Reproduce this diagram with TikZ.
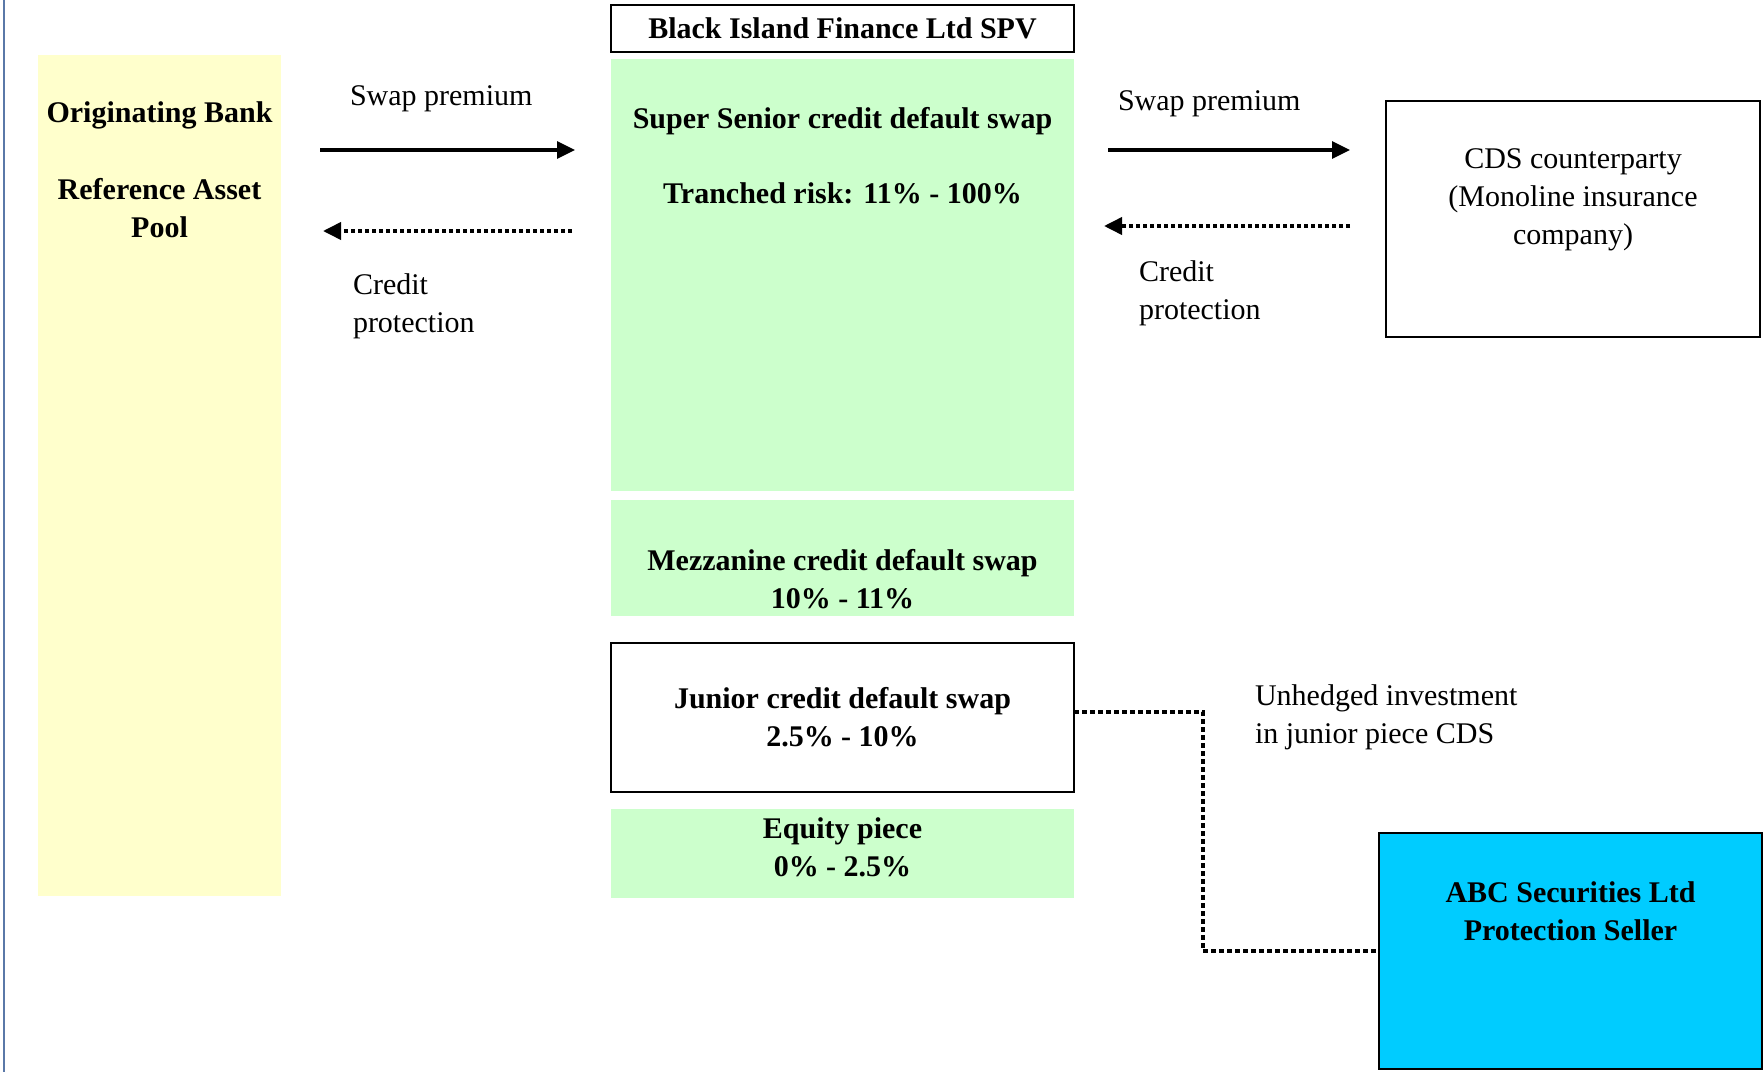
\documentclass[tikz,border=0pt]{standalone}
\usepackage{fontspec}
\setmainfont{Liberation Serif}
\usetikzlibrary{arrows.meta}
\usetikzlibrary{positioning}

\definecolor{poolyellow}{HTML}{FFFFCC}
\definecolor{tranchegreen}{HTML}{CCFFCC}
\definecolor{sellerblue}{HTML}{00CCFF}
\definecolor{marginblue}{HTML}{5A78A8}

\begin{document}
\begin{tikzpicture}[x=0.4pt, y=-0.4pt,
    every node/.style={font=\fontsize{12pt}{15.2pt}\selectfont, inner sep=0pt, outer sep=0pt},
    block/.style={rectangle, minimum width=185.2pt, align=center},
    framed/.style={draw, line width=0.8pt},
    boxtext/.style={align=center, font=\fontsize{12pt}{15.2pt}\selectfont\bfseries},
    plaintext/.style={align=left},
    premium/.style={-{Triangle[length=7.2pt,width=6.8pt]}, line width=1.3pt},
    protection/.style={-{Triangle[length=7.2pt,width=6.8pt]}, line width=1.5pt, dash pattern=on 1.8pt off 1pt},
    unhedged/.style={line width=1.8pt, dash pattern=on 2pt off 1.2pt}]

                    \useasboundingbox (0,0) rectangle (1763,1072);
                    \draw[marginblue, line width=0.6pt] (4,0) -- (4,1072);

                    % originating bank
                    \node[block, fill=poolyellow, minimum width=97.2pt, minimum height=336.4pt, anchor=north west] (bank) at (38,55) {};
                    \node[boxtext, below=18.8pt of bank.north] (bank-text) {Originating Bank\\[15.6pt]Reference Asset\\Pool};

                    % SPV and its tranches
                    \node[block, framed, minimum height=18.8pt, anchor=north west, font=\fontsize{12pt}{15.2pt}\selectfont\bfseries] (spv) at (611,5) {Black Island Finance Ltd SPV};
                    \node[block, fill=tranchegreen, minimum height=172.8pt] (senior) [below=2.8pt of spv] {};
                    \node[block, fill=tranchegreen, minimum height=46.4pt] (mezz) [below=3.6pt of senior] {};
                    \node[block, framed, minimum height=59.6pt, font=\fontsize{12pt}{15.2pt}\selectfont\bfseries] (junior) [below=10.8pt of mezz] {Junior credit default swap\\2.5\% - 10\%};
                    \node[block, fill=tranchegreen, minimum height=35.6pt] (equity) [below=6.8pt of junior] {};
                    \node[boxtext, below=19.2pt of senior.north] (senior-text) {Super Senior credit default swap\\[14.8pt]Tranched risk: 11\% - 100\%};
                    \node[boxtext, below=19.6pt of mezz.north] (mezz-text) {Mezzanine credit default swap\\10\% - 11\%};
                    \node[boxtext, below=3.6pt of equity.north] (equity-text) {Equity piece\\0\% - 2.5\%};

                    % counterparties
                    \node[block, framed, minimum width=149.6pt, minimum height=94.4pt, anchor=north west] (cds) at (1386,101) {};
                    \node[align=center, below=19.2pt of cds.north] (cds-text) {CDS counterparty\\(Monoline insurance\\company)};
                    \node[block, framed, fill=sellerblue, minimum width=153.2pt, minimum height=94.4pt, anchor=north west] (abc) at (1379,833) {};
                    \node[boxtext, below=19.6pt of abc.north] (abc-text) {ABC Securities Ltd\\Protection Seller};

                    % flow labels
                    \node[anchor=base west] (swap-left) at (350,106) {Swap premium};
                    \node[anchor=base west] (swap-right) at (1118,111) {Swap premium};
                    \node[plaintext, anchor=north west] (credit-left) at (353,274) {Credit\\protection};
                    \node[plaintext, anchor=north west] (credit-right) at (1139,261) {Credit\\protection};
                    \node[plaintext, anchor=north west] (unhedged-text) at (1255,685) {Unhedged investment\\in junior piece CDS};

                    \coordinate (lane-a) at (0,150);
                    \coordinate (lane-b) at (0,231);
                    \coordinate (lane-c) at (0,226);

                    \draw[premium, shorten <=15.6pt, shorten >=14.4pt] (bank.east |- lane-a) -- (senior.west |- lane-a);
                    \draw[protection, shorten <=15.6pt, shorten >=16.8pt] (senior.west |- lane-b) -- (bank.east |- lane-b);
                    \draw[premium, shorten <=13.6pt, shorten >=14.4pt] (senior.east |- lane-a) -- (cds.west |- lane-a);
                    \draw[protection, shorten <=14.4pt, shorten >=12pt] (cds.west |- lane-c) -- (senior.east |- lane-c);
                    \draw[unhedged] ([yshift=2.2pt]junior.east) -- ++(51.6pt,0) |- (abc.west);

                \end{tikzpicture}
\end{document}
